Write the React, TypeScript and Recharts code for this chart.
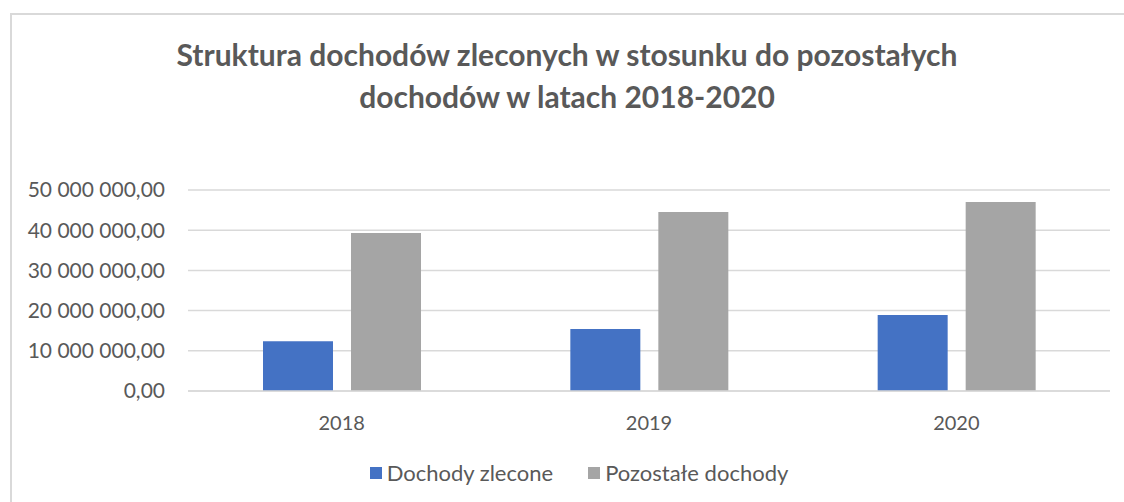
import { BarChart, Bar, XAxis, YAxis, CartesianGrid } from "recharts";

const years = ["2018", "2019", "2020"];
const dochodyZlecone = [12400000, 15400000, 18900000];
const pozostaleDochody = [39300000, 44500000, 47000000];
const yTicks = [0, 10000000, 20000000, 30000000, 40000000, 50000000];
const seriesNames = ["Dochody zlecone", "Pozostałe dochody"];
const seriesColors = ["#4472C4", "#A5A5A5"];

const data = years.map((year, i) => ({
  year,
  zlecone: dochodyZlecone[i],
  pozostale: pozostaleDochody[i],
}));

const fmt = (v: number) => String(v).replace(/\B(?=(\d{3})+(?!\d))/g, " ") + ",00";

const font = "Lato, 'Open Sans', sans-serif";

export default function App() {
  return (
    <div
      style={{
        position: "absolute",
        left: 0,
        top: 0,
        width: 1124,
        height: 502,
        background: "#fff",
        overflow: "hidden",
        fontFamily: font,
      }}
    >
      <div
        style={{
          position: "absolute",
          left: 10,
          top: 13,
          width: 1300,
          height: 700,
          border: "2px solid #D9D9D9",
        }}
      />
      <div
        style={{
          position: "absolute",
          left: 167,
          width: 800,
          top: 33,
          textAlign: "center",
          fontSize: 30,
          fontWeight: 700,
          color: "#595959",
          lineHeight: "42px",
        }}
      >
        Struktura dochodów zleconych w stosunku do pozostałych
        <br />
        dochodów w latach 2018-2020
      </div>
      <div style={{ position: "absolute", top: 0, left: 0 }}>
        <BarChart
          width={1124}
          height={502}
          data={data}
          margin={{ top: 190, right: 14, bottom: 81, left: 0 }}
          barGap={18}
          barSize={70}
        >
          <CartesianGrid stroke="#D9D9D9" strokeWidth={1.5} vertical={false} />
          <XAxis
            dataKey="year"
            tickLine={false}
            axisLine={{ stroke: "#D9D9D9", strokeWidth: 1.5 }}
            tick={{ fill: "#595959", fontSize: 20, fontFamily: font }}
            tickMargin={19}
          />
          <YAxis
            width={188}
            domain={[0, 50000000]}
            ticks={yTicks}
            tickFormatter={fmt}
            tickLine={false}
            axisLine={false}
            tick={{ fill: "#595959", fontSize: 21, fontFamily: font }}
            tickMargin={17}
          />
          <Bar dataKey="zlecone" name={seriesNames[0]} fill={seriesColors[0]} isAnimationActive={false} />
          <Bar dataKey="pozostale" name={seriesNames[1]} fill={seriesColors[1]} isAnimationActive={false} />
        </BarChart>
      </div>
      <div
        style={{
          position: "absolute",
          top: 459,
          left: 0,
          width: 1158,
          display: "flex",
          justifyContent: "center",
          gap: 35,
          fontSize: 22,
          color: "#595959",
        }}
      >
        {seriesNames.map((name, i) => (
          <div key={name} style={{ display: "flex", alignItems: "center" }}>
            <span
              style={{
                display: "inline-block",
                width: 12,
                height: 12,
                background: seriesColors[i],
                marginRight: 5,
              }}
            />
            {name}
          </div>
        ))}
      </div>
    </div>
  );
}
